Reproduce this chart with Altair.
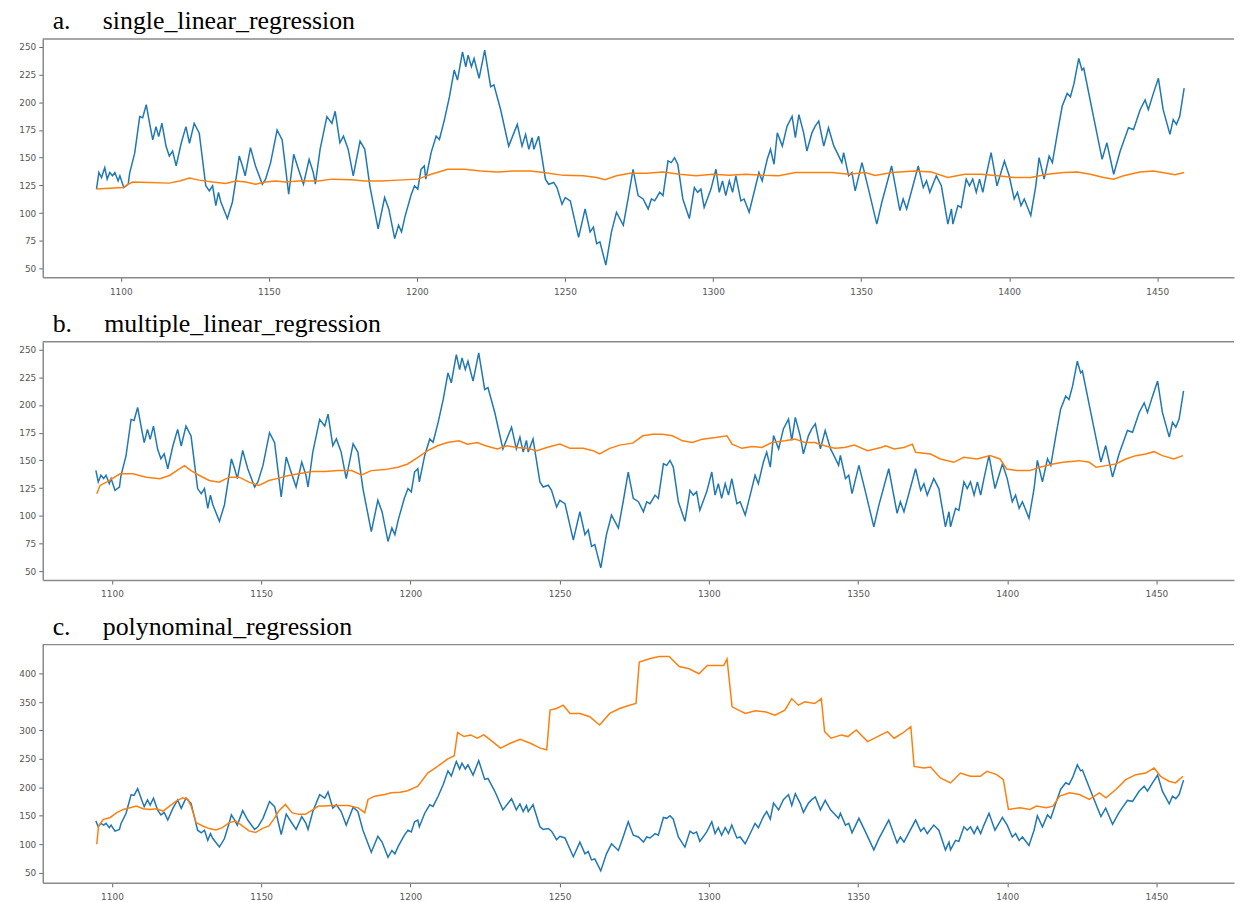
import altair as alt
import pandas as pd

# ---------------- data ----------------
x_ticks = [1100, 1150, 1200, 1250, 1300, 1350, 1400, 1450]
y_ticks_ab = [50, 75, 100, 125, 150, 175, 200, 225, 250]
y_ticks_c = [50, 100, 150, 200, 250, 300, 350, 400]

titles = [
    "a.\u00a0\u00a0\u00a0\u00a0\u00a0single_linear_regression",
    "b.\u00a0\u00a0\u00a0\u00a0\u00a0multiple_linear_regression",
    "c.\u00a0\u00a0\u00a0\u00a0\u00a0polynominal_regression",
]

actual_x = [
    1091.8, 1092.6, 1093.5, 1094.6, 1095.4, 1096.3, 1097.2, 1098.0, 1099.1, 1099.7,
    1101.0, 1102.5, 1103.0, 1104.7, 1106.4, 1107.4, 1108.6, 1109.8, 1110.8, 1111.9,
    1112.8, 1113.9, 1115.3, 1116.4, 1117.5, 1118.7, 1120.4, 1122.0, 1123.2, 1124.8,
    1126.5, 1128.7, 1129.9, 1131.0, 1132.1, 1133.0, 1133.8, 1136.0, 1137.7, 1139.4,
    1140.0, 1141.1, 1142.0, 1143.8, 1145.5, 1147.8, 1148.9, 1150.6, 1152.8, 1154.5,
    1156.7, 1158.4, 1160.0, 1161.7, 1163.6, 1165.0, 1165.7, 1167.3, 1169.6, 1171.3,
    1172.4, 1174.0, 1175.2, 1176.8, 1178.5, 1180.8, 1182.4, 1184.1, 1186.9, 1189.1,
    1190.5, 1192.5, 1193.8, 1194.8, 1196.0, 1198.0, 1199.2, 1200.3, 1201.4, 1202.5,
    1203.0, 1204.8, 1206.5, 1207.6, 1209.3, 1211.0, 1212.6, 1213.7, 1215.4, 1216.5,
    1217.3, 1218.4, 1219.3, 1221.0, 1222.9, 1224.9, 1226.0, 1228.3, 1231.0, 1233.9,
    1235.5, 1236.7, 1237.8, 1238.9, 1239.5, 1241.1, 1243.4, 1244.5, 1246.2, 1247.3,
    1249.0, 1250.1, 1251.8, 1254.6, 1256.8, 1258.5, 1259.6, 1260.7, 1261.8, 1263.8,
    1265.7, 1267.4, 1269.7, 1271.3, 1273.0, 1274.7, 1276.4, 1278.1, 1279.2, 1280.3,
    1282.0, 1283.1, 1284.8, 1285.9, 1287.0, 1288.1, 1289.8, 1292.0, 1293.7, 1294.8,
    1295.9, 1297.0, 1299.3, 1301.0, 1302.1, 1303.2, 1304.3, 1305.5, 1306.6, 1307.7,
    1309.4, 1310.5, 1312.2, 1314.4, 1315.5, 1316.6, 1318.3, 1319.4, 1320.6, 1321.7,
    1323.4, 1325.0, 1326.7, 1327.8, 1329.0, 1330.6, 1331.7, 1333.4, 1334.5, 1335.7,
    1337.4, 1339.0, 1340.8, 1341.9, 1343.5, 1344.1, 1345.8, 1346.9, 1348.0, 1350.3,
    1352.5, 1355.3, 1357.0, 1360.3, 1363.1, 1364.2, 1365.4, 1369.3, 1371.0, 1372.1,
    1373.2, 1375.4, 1377.1, 1379.3, 1380.5, 1381.0, 1382.7, 1383.8, 1385.5, 1386.6,
    1387.7, 1388.9, 1390.0, 1391.1, 1392.2, 1393.9, 1395.9, 1398.4, 1400.0, 1401.7,
    1402.8, 1404.0, 1405.1, 1407.3, 1409.0, 1410.1, 1411.8, 1413.5, 1414.6, 1416.3,
    1417.9, 1419.6, 1420.7, 1421.9, 1423.5, 1424.6, 1425.2, 1428.0, 1431.4, 1433.0,
    1435.3, 1437.5, 1440.3, 1442.0, 1444.2, 1445.9, 1447.0, 1448.7, 1450.4, 1452.0,
    1454.3, 1455.4, 1456.5, 1457.6, 1459.1,
]
actual_y = [
    121.6, 136.6, 132.0, 141.0, 130.6, 136.6, 133.6, 136.6, 129.0, 133.6,
    123.0, 126.0, 136.0, 154.0, 187.0, 186.0, 197.8, 180.0, 166.0, 178.0,
    169.0, 181.0, 160.0, 151.5, 156.0, 142.5, 163.0, 178.0, 163.0, 181.0,
    172.0, 124.6, 120.0, 124.6, 106.7, 118.6, 110.0, 95.0, 110.0, 139.5,
    151.5, 142.5, 133.6, 159.0, 142.5, 126.0, 130.6, 145.5, 175.0, 166.0,
    117.0, 153.0, 139.5, 126.0, 148.5, 136.6, 126.0, 157.5, 187.0, 181.0,
    191.8, 163.4, 169.4, 157.5, 133.6, 165.0, 157.5, 124.6, 85.8, 114.0,
    103.7, 76.9, 89.0, 83.0, 97.0, 116.0, 124.6, 121.6, 139.5, 142.5,
    130.6, 154.5, 169.4, 166.4, 184.3, 205.0, 229.0, 220.0, 245.5, 232.0,
    242.5, 232.0, 239.5, 221.6, 247.0, 214.0, 215.7, 193.0, 160.4, 180.0,
    160.4, 171.0, 157.5, 168.0, 157.5, 169.4, 130.6, 126.0, 127.6, 123.0,
    108.0, 114.0, 111.0, 78.0, 103.7, 83.0, 87.3, 72.4, 74.0, 53.0,
    83.0, 100.7, 89.0, 112.7, 139.5, 115.7, 112.7, 103.7, 112.7, 111.0,
    118.7, 115.7, 147.0, 145.5, 150.0, 144.0, 112.7, 95.0, 123.0, 118.7,
    121.6, 105.0, 121.6, 139.5, 118.7, 129.0, 115.7, 129.0, 118.7, 133.6,
    111.0, 112.7, 100.7, 124.6, 136.6, 129.0, 148.5, 157.5, 144.0, 172.4,
    160.4, 178.4, 187.3, 168.0, 188.8, 172.4, 156.0, 172.4, 178.4, 183.0,
    160.4, 177.0, 160.4, 154.5, 145.5, 154.5, 133.6, 136.6, 120.0, 145.5,
    121.6, 90.0, 109.7, 142.5, 102.2, 112.7, 103.7, 142.5, 123.0, 129.0,
    118.7, 133.6, 124.6, 90.0, 103.7, 90.0, 106.7, 105.0, 130.6, 124.6,
    130.6, 118.7, 130.6, 118.7, 133.6, 154.5, 124.6, 147.0, 133.6, 112.7,
    118.7, 106.7, 112.7, 97.8, 124.6, 150.0, 130.6, 151.5, 145.5, 172.4,
    196.3, 208.0, 205.0, 217.0, 239.5, 229.0, 230.6, 193.3, 148.5, 163.4,
    135.0, 156.0, 177.0, 175.4, 193.0, 202.0, 193.3, 208.0, 221.6, 193.3,
    171.0, 184.3, 180.0, 187.3, 212.7,
]

single_x = [
    1091.8, 1100.8, 1102.5, 1104.0, 1109.7, 1116.4, 1119.8, 1123.2, 1126.5, 1131.0,
    1135.5, 1138.8, 1142.2, 1145.5, 1148.9, 1152.2, 1155.6, 1160.0, 1166.8, 1171.3,
    1178.0, 1182.4, 1188.0, 1193.6, 1200.3, 1204.8, 1210.4, 1216.0, 1221.6, 1227.2,
    1232.7, 1238.3, 1242.8, 1249.5, 1256.2, 1260.7, 1263.5, 1267.4, 1271.9, 1277.5,
    1283.1, 1288.7, 1294.3, 1299.9, 1305.5, 1311.0, 1316.6, 1322.2, 1327.8, 1334.6,
    1340.2, 1345.8, 1351.4, 1354.7, 1360.3, 1368.2, 1373.7, 1379.3, 1385.0, 1390.5,
    1396.1, 1401.7, 1407.3, 1412.9, 1418.5, 1423.0, 1427.4, 1431.9, 1435.3, 1438.6,
    1444.2, 1448.7, 1453.2, 1456.0, 1459.1,
]
single_y = [
    121.6, 123.0, 126.0, 128.0, 127.6, 127.0, 129.0, 131.5, 129.7, 128.0,
    126.7, 129.0, 128.0, 126.0, 128.0, 129.0, 128.0, 129.0, 129.0, 130.6,
    130.0, 129.0, 129.0, 129.7, 130.6, 135.0, 139.5, 139.5, 138.0, 137.0,
    138.0, 138.0, 136.6, 134.0, 133.6, 132.0, 130.0, 133.6, 136.0, 136.0,
    137.0, 135.0, 133.6, 135.0, 134.0, 135.0, 134.0, 133.6, 136.6, 136.6,
    136.6, 135.0, 136.6, 134.0, 136.6, 138.0, 137.0, 132.0, 135.0, 135.0,
    133.6, 132.0, 132.0, 135.0, 136.6, 137.0, 135.0, 132.0, 130.6, 133.6,
    137.0, 138.0, 136.0, 134.5, 136.6,
]

multiple_x = [
    1094.9, 1096.0, 1098.2, 1102.7, 1107.0, 1111.5, 1116.0, 1119.3, 1122.6, 1124.3,
    1126.5, 1129.3, 1132.6, 1135.9, 1139.3, 1142.6, 1145.9, 1149.2, 1152.6, 1155.9,
    1159.2, 1162.5, 1167.0, 1171.4, 1175.8, 1180.3, 1183.6, 1186.9, 1191.4, 1195.8,
    1199.1, 1202.5, 1205.8, 1209.1, 1212.4, 1216.3, 1219.1, 1222.4, 1225.2, 1229.1,
    1232.4, 1235.7, 1239.0, 1242.4, 1245.7, 1250.1, 1253.5, 1257.9, 1261.2, 1263.4,
    1266.8, 1270.1, 1274.5, 1277.9, 1281.2, 1284.5, 1287.8, 1291.2, 1294.5, 1297.8,
    1302.3, 1306.1, 1307.8, 1311.1, 1314.5, 1317.8, 1321.1, 1325.5, 1328.9, 1332.2,
    1335.5, 1338.8, 1342.2, 1345.5, 1348.8, 1353.2, 1357.7, 1359.3, 1362.1, 1365.4,
    1368.2, 1369.3, 1374.3, 1377.6, 1382.1, 1385.4, 1389.8, 1394.3, 1397.6, 1399.8,
    1403.1, 1407.6, 1410.9, 1415.3, 1418.7, 1424.2, 1427.5, 1429.8, 1433.1, 1436.4,
    1439.7, 1443.1, 1446.4, 1449.2, 1452.0, 1455.8, 1458.9,
]
multiple_y = [
    120.0, 127.4, 130.4, 137.9, 137.9, 134.9, 133.4, 136.4, 142.3, 145.3,
    140.8, 136.4, 131.9, 130.4, 134.9, 134.9, 130.4, 127.4, 131.9, 134.0,
    136.4, 137.9, 140.0, 140.0, 140.8, 140.8, 137.0, 140.8, 141.7, 143.8,
    146.8, 152.8, 158.8, 163.2, 166.2, 167.7, 164.7, 166.2, 163.2, 160.3,
    163.2, 161.7, 160.9, 158.8, 161.7, 164.7, 160.9, 160.9, 158.8, 155.8,
    160.9, 163.8, 165.6, 172.2, 173.7, 173.7, 172.2, 167.7, 166.2, 169.2,
    170.7, 172.2, 164.7, 160.9, 162.6, 161.7, 166.2, 167.7, 169.2, 166.2,
    166.2, 163.2, 160.9, 161.7, 163.8, 158.8, 161.7, 163.2, 160.3, 161.7,
    164.7, 157.3, 155.8, 151.3, 148.3, 152.8, 151.3, 154.3, 151.3, 142.3,
    140.8, 140.8, 143.8, 146.8, 148.3, 149.8, 148.3, 143.8, 145.3, 146.8,
    151.3, 154.3, 155.8, 157.9, 154.3, 151.3, 154.3,
]

poly_x = [
    1094.9, 1095.5, 1097.1, 1099.3, 1101.6, 1103.8, 1106.0, 1108.2, 1110.4, 1112.6,
    1114.9, 1117.1, 1119.3, 1121.5, 1123.7, 1125.4, 1126.5, 1128.2, 1130.4, 1132.6,
    1134.8, 1137.0, 1139.3, 1141.5, 1143.7, 1145.9, 1148.1, 1150.3, 1152.6, 1154.2,
    1155.9, 1158.1, 1160.3, 1162.5, 1164.8, 1167.5, 1169.2, 1171.4, 1173.6, 1175.8,
    1179.2, 1182.5, 1184.7, 1185.8, 1188.0, 1191.4, 1193.6, 1196.5, 1199.1, 1202.5,
    1205.8, 1209.1, 1212.4, 1214.7, 1215.8, 1218.0, 1220.2, 1222.4, 1224.6, 1226.8,
    1230.2, 1233.5, 1236.8, 1240.2, 1243.5, 1245.7, 1246.8, 1249.0, 1251.2, 1253.5,
    1256.8, 1260.1, 1263.4, 1266.8, 1270.1, 1273.4, 1275.6, 1276.7, 1280.1, 1283.4,
    1286.7, 1290.1, 1293.4, 1296.7, 1299.5, 1302.3, 1305.0, 1306.1, 1307.8, 1310.0,
    1312.2, 1315.6, 1318.9, 1322.2, 1325.5, 1327.8, 1330.0, 1332.2, 1335.5, 1337.7,
    1338.8, 1341.0, 1344.4, 1346.6, 1349.4, 1353.2, 1357.7, 1359.9, 1362.1, 1364.9,
    1367.7, 1368.8, 1372.1, 1374.3, 1377.6, 1381.0, 1384.3, 1387.6, 1391.0, 1393.2,
    1396.5, 1398.7, 1400.4, 1404.3, 1407.6, 1409.8, 1413.1, 1415.3, 1417.6, 1420.9,
    1424.2, 1427.5, 1430.9, 1433.1, 1436.4, 1439.7, 1443.1, 1446.4, 1449.2, 1451.4,
    1454.2, 1456.4, 1458.9,
]
poly_y = [
    100.0, 132.0, 143.7, 146.6, 155.4, 161.2, 164.0, 167.0, 162.4, 161.2,
    162.4, 158.3, 167.0, 175.7, 181.6, 178.7, 167.0, 138.0, 132.1, 127.5,
    125.1, 129.2, 138.0, 140.8, 132.1, 123.4, 120.5, 127.5, 132.1, 143.7,
    158.3, 169.9, 155.4, 152.5, 152.5, 161.2, 167.0, 167.0, 168.2, 168.2,
    168.2, 164.0, 155.4, 178.7, 184.5, 187.4, 190.3, 191.5, 194.0, 202.0,
    225.2, 236.8, 249.7, 255.5, 296.3, 289.3, 292.2, 286.4, 292.2, 283.4,
    268.9, 277.6, 284.6, 277.6, 268.9, 266.0, 335.8, 338.7, 344.5, 330.0,
    330.0, 324.1, 309.6, 330.0, 338.7, 344.5, 347.4, 420.2, 426.0, 430.0,
    430.0, 412.6, 408.5, 399.8, 414.3, 414.3, 414.3, 426.0, 341.6, 335.8,
    330.0, 334.6, 332.8, 327.0, 335.8, 356.1, 344.5, 350.3, 347.4, 356.1,
    298.0, 286.4, 292.2, 289.3, 300.9, 280.5, 292.2, 298.0, 286.4, 295.2,
    306.8, 236.9, 234.0, 235.8, 216.5, 207.8, 225.2, 219.4, 219.4, 228.1,
    222.3, 213.6, 161.2, 164.0, 161.2, 167.0, 164.0, 167.0, 184.5, 190.3,
    187.4, 178.7, 190.3, 181.6, 196.1, 213.6, 222.3, 225.2, 234.0, 219.4,
    210.7, 207.8, 219.4,
]

# ---------------- layout / style ----------------
PLOT_W = 1200
PLOT_H = 240
BLUE = "#1f77b4"
ORANGE = "#ff7f0e"
FRAME = "#8a8a8a"
TICKTXT = "#555555"


def panel(title, act_x, act_y, pred_x, pred_y, xdom, ydom, yticks, xmin):
    act = pd.DataFrame({"t": act_x, "v": act_y})
    act = act[act["t"] >= xmin]
    pred = pd.DataFrame({"t": pred_x, "v": pred_y})

    x_enc = alt.X(
        "t:Q",
        scale=alt.Scale(domain=xdom, nice=False, zero=False),
        axis=alt.Axis(
            values=x_ticks, format="d", title=None, grid=False,
            labelFont="DejaVu Sans", labelFontSize=9, labelColor=TICKTXT,
            tickColor="#666666", tickSize=4, labelPadding=6,
            domainColor=FRAME, domainWidth=1.5, labelOverlap=False,
            labelFlush=False,
        ),
    )
    y_enc = alt.Y(
        "v:Q",
        scale=alt.Scale(domain=ydom, nice=False, zero=False),
        axis=alt.Axis(
            values=yticks, format="d", title=None, grid=False,
            labelFont="DejaVu Sans", labelFontSize=9, labelColor=TICKTXT,
            tickColor="#666666", tickSize=4, labelPadding=3,
            domainColor=FRAME, domainWidth=1.5, labelOverlap=False,
            minExtent=30, maxExtent=30, labelFlush=False,
        ),
    )
    line_a = alt.Chart(act).mark_line(color=BLUE, strokeWidth=1.5).encode(
        x=x_enc, y=y_enc
    )
    line_p = alt.Chart(pred).mark_line(color=ORANGE, strokeWidth=1.5).encode(
        x=x_enc, y=y_enc
    )
    top_edge = alt.Chart(pd.DataFrame({"edge": ["top"]})).mark_rule(
        color=FRAME, strokeWidth=1.5
    ).encode(x=alt.value(0), x2=alt.value(PLOT_W), y=alt.value(0))

    return alt.layer(line_a, line_p, top_edge).properties(
        width=PLOT_W,
        height=PLOT_H,
        title=alt.TitleParams(
            text=title, anchor="start", frame="group", dx=10, offset=4,
            font="Liberation Serif", fontSize=26,
            fontWeight="normal", color="#000000",
        ),
    )


pa = panel(titles[0], actual_x, actual_y, single_x, single_y,
           [1073.65, 1073.65 + PLOT_W / 2.983], [42, 257], y_ticks_ab, 1090)
pb = panel(titles[1], actual_x, actual_y, multiple_x, multiple_y,
           [1076.8, 1076.8 + PLOT_W / 3.006], [42, 257], y_ticks_ab, 1094.5)
pc = panel(titles[2], actual_x, actual_y, poly_x, poly_y,
           [1076.8, 1076.8 + PLOT_W / 3.006], [32, 451], y_ticks_c, 1094.5)

chart = alt.vconcat(pa, pb, pc, spacing=15).properties(
    padding={"left": 5, "top": -3, "right": 0, "bottom": 0},
    background="white",
).configure_view(stroke=None)

chart.save("out.html", embed_options={"renderer": "svg", "actions": False})
